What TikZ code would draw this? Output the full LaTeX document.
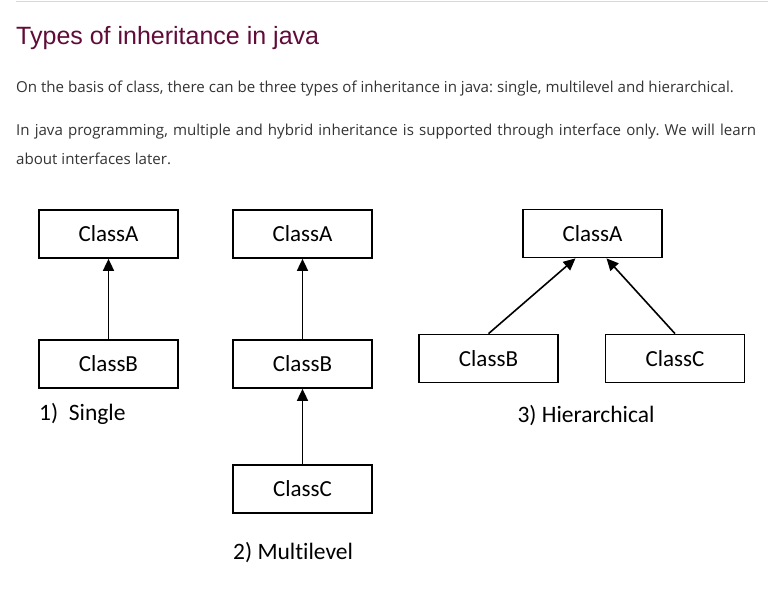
\documentclass[tikz,border=0pt]{standalone}
\usepackage{fontspec}
\usetikzlibrary{arrows.meta}
\setmainfont[Ligatures={NoCommon}]{Carlito}
\newfontfamily\titlefont{Liberation Sans}
\newfontfamily\parafont{Open Sans}
\definecolor{titlecol}{HTML}{610B38}
\definecolor{textcol}{HTML}{333333}
\definecolor{rulecol}{HTML}{D8D8D8}
\frenchspacing
\tikzset{
  cls/.style={draw=black, line width=1.7pt, minimum width=139pt, minimum height=48pt, inner sep=0pt, font=\fontsize{23}{25}\selectfont, text=black},
  inh/.style={line width=1.6pt, -{Triangle[length=12pt,width=11pt]}},
  captext/.style={font=\fontsize{23.5}{25}\selectfont, inner sep=0pt, anchor=west},
  para/.style={font=\parafont\fontsize{15.1}{17}\selectfont, text=textcol, inner sep=0pt, anchor=west}
}
\begin{document}
\begin{tikzpicture}[x=1pt,y=-1pt]
\useasboundingbox (0,0) rectangle (772,600);
\fill[white] (0,0) rectangle (772,600);
\coordinate (r1) at (16,1);
\coordinate (r2) at (768,1);
\draw[rulecol, line width=1pt] (r1) -- (r2);
\node[inner sep=0pt, anchor=west, text=titlecol, font=\titlefont\fontsize{25}{27}\selectfont] (title) at (16,38.5) {Types of inheritance in java};
\node[para] (p1) at (16,89) {On the basis of class, there can be three types of inheritance in java: single, multilevel and hierarchical.};
\node[para] (p2) at (16,132) {\makebox[740pt][s]{In java programming, multiple and hybrid inheritance is supported through interface only. We will learn}};
\node[para] (p3) at (16,159) {about interfaces later.};
% Single
\node[cls] (sa) at (108.5,234) {ClassA};
\node[cls] (sb) at (108.5,364) {ClassB};
\draw[inh] (sb) -- (sa);
\node[captext] (c1) at (39,414) {1)\ \ Single};
% Multilevel
\node[cls] (ma) at (302.5,234) {ClassA};
\node[cls] (mb) at (302.5,364) {ClassB};
\node[cls] (mc) at (302.5,489) {ClassC};
\draw[inh] (mb) -- (ma);
\draw[inh] (mc) -- (mb);
\node[captext] (c2) at (233,553) {2) Multilevel};
% Hierarchical
\node[cls] (ha) at (592.5,233.5) {ClassA};
\node[cls] (hb) at (488.5,358.5) {ClassB};
\node[cls] (hc) at (675,358.5) {ClassC};
\draw[inh] (hb.north) -- ([xshift=-17pt]ha.south);
\draw[inh] (hc.north) -- ([xshift=14pt]ha.south);
\node[captext, anchor=center] (c3) at (586,416) {3) Hierarchical};
\end{tikzpicture}
\end{document}
